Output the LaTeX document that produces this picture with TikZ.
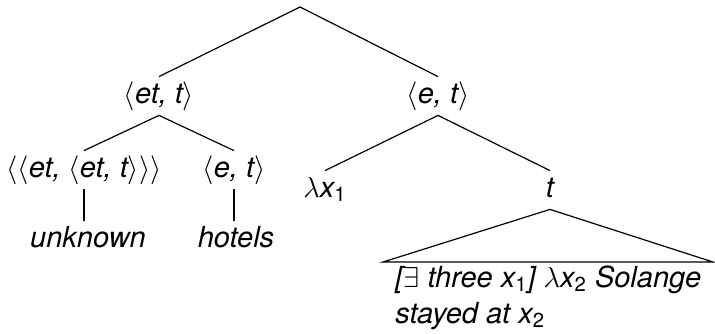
\documentclass[tikz,border=0pt]{standalone}
\usepackage{fontspec}
\setmainfont{TeX Gyre Heros}
% angle brackets and subscripts for the type labels
\newcommand{\angl}{$\langle$}
\newcommand{\angr}{$\rangle$}
\newcommand{\sbs}[1]{\textsubscript{\upshape #1}}
\begin{document}
\begin{tikzpicture}[x=0.5pt,y=-0.5pt,
    font=\fontsize{14.5}{18}\selectfont\itshape,
    lbl/.style={inner sep=0pt, text height=13pt, text depth=6pt, anchor=base},
    leaf/.style={inner sep=0pt, anchor=base west},
    edge/.style={line width=0.6pt}]
  \useasboundingbox (0,0) rectangle (715,333);

  % nodes
  \coordinate (root) at (300,7);
  \node[lbl] (etT) at (159,103) {\angl et, t\angr};
  \node[lbl] (eT)  at (438,103) {\angl e, t\angr};
  \node[lbl] (q)   at (84,177)  {\angl\angl et, \angl et, t\angr\angr\angr};
  \node[lbl] (eT2) at (234,177) {\angl e, t\angr};
  \node[lbl] (unk) at (88,247)  {unknown};
  \node[lbl] (hot) at (236,247) {hotels};
  \node[lbl] (lam) at (325,197) {$\lambda$x\sbs{1}};
  \node[lbl] (t)   at (550,197) {t};

  % roof over the unanalysed constituent
  \coordinate (bl) at (383,262);
  \coordinate (br) at (713,262);
  \node[leaf] (f1) at (395,287) {[$\exists$ three x\sbs{1}] $\lambda$x\sbs{2} Solange};
  \node[leaf] (f2) at (395,323) {stayed at x\sbs{2}};

  % branches
  \draw[edge] (etT.north) -- (root) -- (eT.north);
  \draw[edge] (q.north) -- (etT.south) -- (eT2.north);
  \draw[edge] (lam.north) -- (eT.south) -- (t.north);
  \draw[edge] (q.south) -- (q.south |- unk.north);
  \draw[edge] (eT2.south) -- (eT2.south |- hot.north);
  \draw[edge] (t.south) -- (bl) -- (br) -- cycle;
\end{tikzpicture}
\end{document}
